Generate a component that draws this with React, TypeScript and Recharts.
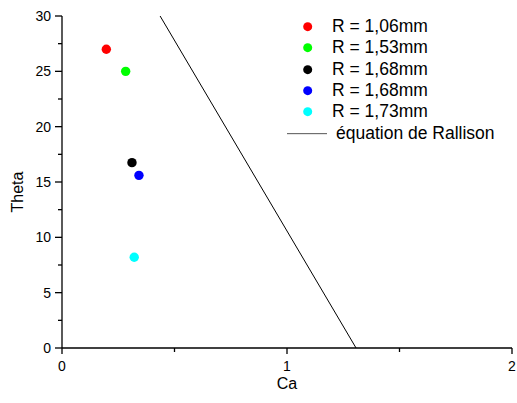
import React from 'react';
import { ScatterChart, Scatter, XAxis, YAxis, Legend } from 'recharts';

const FONT = '"Liberation Sans", Arial, sans-serif';

const seriesNames = ['R = 1,06mm', 'R = 1,53mm', 'R = 1,68mm', 'R = 1,68mm', 'R = 1,73mm'];
const seriesColors = ['#ff0000', '#00ff00', '#000000', '#0000ff', '#00ffff'];
const caValues = [0.197, 0.283, 0.311, 0.342, 0.321];
const thetaValues = [27, 25, 16.75, 15.6, 8.2];

const rallisonName = 'équation de Rallison';
const rallisonCa = [0.436, 1.307];
const rallisonTheta = [30, 0];

const xTicks = [0, 0.5, 1, 1.5, 2];
const yTicks = [0, 2.5, 5, 7.5, 10, 12.5, 15, 17.5, 20, 22.5, 25, 27.5, 30];

const pointSeries = seriesNames.map((name, i) => ({
  name,
  color: seriesColors[i],
  data: [{ x: caValues[i], y: thetaValues[i] }],
}));

const rallisonData = rallisonCa.map((x, i) => ({ x, y: rallisonTheta[i] }));

function XTick(props: any) {
  const { x, y, payload } = props;
  const v = payload.value;
  const major = Number.isInteger(v);
  return (
    <g>
      <line x1={x} y1={y} x2={x} y2={y + (major ? 6 : 4)} stroke="#000" strokeWidth={1.3} />
      {major && (
        <text x={x} y={y + 23} textAnchor="middle" fontSize={14} fontFamily={FONT} fill="#000">
          {v}
        </text>
      )}
    </g>
  );
}

function YTick(props: any) {
  const { x, y, payload } = props;
  const v = payload.value;
  const major = v % 5 === 0;
  return (
    <g>
      <line x1={x} y1={y} x2={x - (major ? 7 : 4)} y2={y} stroke="#000" strokeWidth={1.3} />
      {major && (
        <text x={x - 11} y={y + 5} textAnchor="end" fontSize={14} fontFamily={FONT} fill="#000">
          {v}
        </text>
      )}
    </g>
  );
}

function LegendContent(props: any) {
  const { payload } = props;
  return (
    <div style={{ fontFamily: FONT, fontSize: 17.5, color: '#000' }}>
      {(payload || []).map((entry: any, i: number) => {
        const isLine = entry.value === rallisonName;
        return (
          <div key={i} style={{ position: 'relative', height: 21.33, lineHeight: '21.33px', whiteSpace: 'nowrap' }}>
            <svg width={50} height={21.33} style={{ position: 'absolute', left: 0, top: 0 }}>
              {isLine ? (
                <line x1={7} y1={10.67} x2={47} y2={10.67} stroke="#555" strokeWidth={1} />
              ) : (
                <circle cx={27.7} cy={10.67} r={4.5} fill={entry.color} />
              )}
            </svg>
            <span style={{ position: 'absolute', left: isLine ? 56 : 52, top: 0 }}>{entry.value}</span>
          </div>
        );
      })}
    </div>
  );
}

export default function App() {
  return (
    <div style={{ position: 'absolute', left: 0, top: 0 }}>
      <ScatterChart width={517} height={403} margin={{ top: 16, right: 5, bottom: 0, left: 0 }}>
        <XAxis
          type="number"
          dataKey="x"
          domain={[0, 2]}
          ticks={xTicks}
          height={55}
          tickSize={0}
          tickMargin={0}
          tickLine={false}
          tick={<XTick />}
          interval={0}
          axisLine={{ stroke: '#000', strokeWidth: 1.3 }}
          label={{
            content: (p: any) => {
              const vb = p.viewBox;
              return (
                <text x={vb.x + vb.width / 2} y={vb.y + 41} textAnchor="middle" fontSize={16} fontFamily={FONT} fill="#000">
                  Ca
                </text>
              );
            },
          }}
        />
        <YAxis
          type="number"
          dataKey="y"
          domain={[0, 30]}
          ticks={yTicks}
          width={62}
          tickSize={0}
          tickMargin={0}
          tickLine={false}
          tick={<YTick />}
          interval={0}
          axisLine={{ stroke: '#000', strokeWidth: 1.3 }}
          label={{
            content: (p: any) => {
              const vb = p.viewBox;
              const cx = vb.x + 23;
              const cy = vb.y + vb.height / 2 + 10;
              return (
                <text
                  x={cx}
                  y={cy}
                  transform={`rotate(-90, ${cx}, ${cy})`}
                  textAnchor="middle"
                  fontSize={16}
                  fontFamily={FONT}
                  fill="#000"
                >
                  Theta
                </text>
              );
            },
          }}
        />
        {pointSeries.map((s) => (
          <Scatter
            key={s.name + s.color}
            name={s.name}
            data={s.data}
            fill={s.color}
            isAnimationActive={false}
            shape={(p: any) => <circle cx={p.cx} cy={p.cy} r={4.7} fill={s.color} />}
          />
        ))}
        <Scatter
          name={rallisonName}
          data={rallisonData}
          fill="#000"
          line={{ stroke: '#000', strokeWidth: 1 }}
          isAnimationActive={false}
          shape={() => <g />}
        />
        <Legend
          layout="horizontal"
          verticalAlign="middle"
          align="center"
          content={<LegendContent />}
          wrapperStyle={{ left: 280, top: 16, width: 237, height: 130 }}
        />
      </ScatterChart>
    </div>
  );
}
